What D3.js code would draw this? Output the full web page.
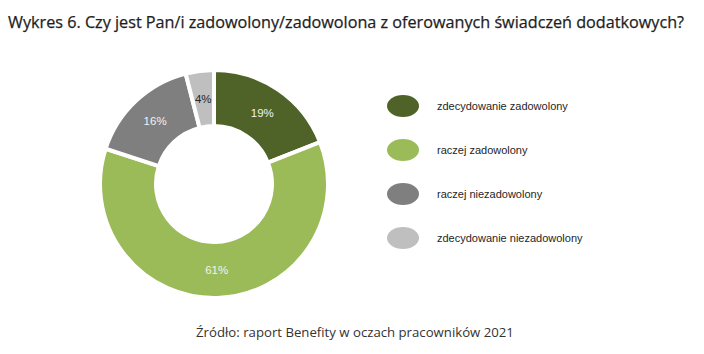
<!DOCTYPE html>
<html><head><meta charset="utf-8">
<script src="https://cdn.jsdelivr.net/npm/d3@7"></script>
<style>body{margin:0;background:#fff}</style>
</head><body>
<svg id="c" width="704" height="354"></svg>
<script>
const categories = ["zdecydowanie zadowolony","raczej zadowolony","raczej niezadowolony","zdecydowanie niezadowolony"];
const values = [19, 61, 16, 4];
const labels = ["19%","61%","16%","4%"];
const colors = ["#4f6228","#9bbb59","#7f7f7f","#bfbfbf"];
const labelColors = ["#f2f2f2","#f2f2f2","#f2f2f2","#262626"];

const svg = d3.select("#c");
svg.append("text").attr("x",8).attr("y",28)
  .attr("font-family","'Open Sans'").attr("font-size",16.2).attr("fill","#1e1e1e")
  .attr("stroke","#1e1e1e").attr("stroke-width",0.25)
  .text("Wykres 6. Czy jest Pan/i zadowolony/zadowolona z oferowanych świadczeń dodatkowych?");

const cx = 214, cy = 184, R = 114, r = 58;
const pie = d3.pie().sort(null).value(d=>d)(values);
const arc = d3.arc().innerRadius(r).outerRadius(R);
const g = svg.append("g").attr("transform",`translate(${cx},${cy})`);
g.selectAll("path").data(pie).join("path")
  .attr("d",arc).attr("fill",(d,i)=>colors[i])
  .attr("stroke","#fff").attr("stroke-width",4).attr("stroke-linejoin","miter");
g.selectAll("text").data(pie).join("text")
  .attr("transform",d=>`translate(${arc.centroid(d)})`)
  .attr("text-anchor","middle").attr("dy","0.35em")
  .attr("font-family","'Liberation Sans', sans-serif").attr("font-size",11.5)
  .attr("fill",(d,i)=>labelColors[i]).text((d,i)=>labels[i]);

const ly = d3.scalePoint().domain(categories).range([106,238]);
const lg = svg.append("g");
lg.selectAll("ellipse").data(categories).join("ellipse")
  .attr("cx",403).attr("cy",d=>ly(d)).attr("rx",16).attr("ry",11)
  .attr("fill",(d,i)=>colors[i]);
lg.selectAll("text").data(categories).join("text")
  .attr("x",437).attr("y",d=>ly(d)).attr("dy","0.35em")
  .attr("font-family","'Liberation Sans', sans-serif").attr("font-size",11)
  .attr("fill","#262626").text(d=>d);

svg.append("text").attr("x",355).attr("y",337).attr("text-anchor","middle")
  .attr("font-family","'Open Sans'").attr("font-size",13.2).attr("fill","#333")
  .text("Źródło: raport Benefity w oczach pracowników 2021");
</script>
</body></html>
